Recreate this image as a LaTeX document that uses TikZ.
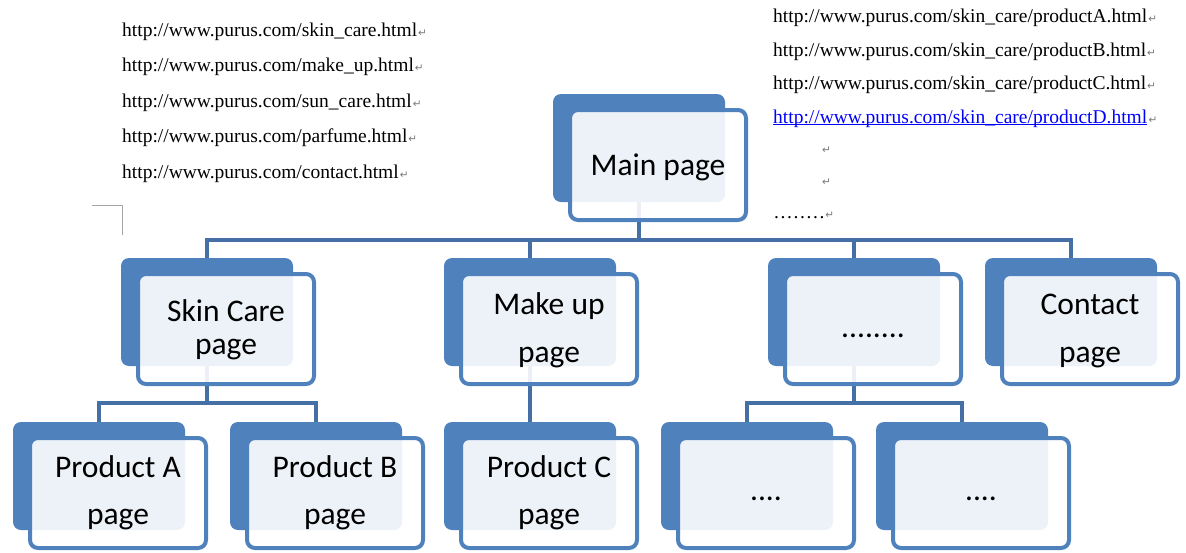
\documentclass[tikz,border=0pt]{standalone}
\usepackage{fontspec}
\setmainfont{Carlito}
\newfontfamily\urlfont{Liberation Serif}
\newfontfamily\markfont{DejaVu Sans}
\definecolor{accent}{RGB}{79,129,189}
\definecolor{linkline}{RGB}{68,112,166}
\definecolor{markgray}{RGB}{120,120,120}
\definecolor{cropgray}{RGB}{165,165,165}
\definecolor{hyper}{RGB}{0,0,255}
\pgfdeclarelayer{bg}
\pgfsetlayers{bg,main}
% paragraph mark after each line of the address list
\newcommand{\pmark}{{\markfont\fontsize{10.5}{10.5}\selectfont\color{markgray}\kern1pt ↵}}
% one page of the site: a filled tab behind a framed card
\newcommand{\pagecard}[3]{%
  \node[backbox]  (#1-b) at ({#2+86},{#3+54}) {};
  \node[frontbox] (#1)   at ({#2+105},{#3+71}) {};
}
\begin{document}
\begin{tikzpicture}[x=1pt,y=-1pt,
  backbox/.style={fill=accent, draw=none, rounded corners=8pt,
    minimum width=172pt, minimum height=108pt, inner sep=0pt, outer sep=0pt},
  frontbox/.style={draw=accent, line width=4pt, fill=white, fill opacity=0.9,
    rounded corners=8pt, minimum width=176pt, minimum height=110pt, inner sep=0pt},
  cardtext/.style={font=\fontsize{31.5}{38}\selectfont, anchor=base,
    align=center, inner sep=0pt, text=black},
  link/.style={draw=linkline, line width=4pt},
  url/.style={font=\urlfont\fontsize{19.5}{23}\selectfont, anchor=base west,
    inner sep=0pt, text=black},
  crop/.style={draw=cropgray, line width=1pt}]
\useasboundingbox (0,0) rectangle (1186,552);

% ---- site tree ----
\pagecard{main}{553}{94}
\pagecard{skin}{121}{258}
\pagecard{makeup}{444}{258}
\pagecard{more}{768}{258}
\pagecard{contact}{985}{258}
\pagecard{pa}{13}{422}
\pagecard{pb}{230}{422}
\pagecard{pc}{444}{422}
\pagecard{moreA}{661}{422}
\pagecard{moreB}{876}{422}

% labels: the base anchor sits on the last line
\node[cardtext] (main-t)    at (658,175) {Main page};
\node[cardtext] (skin-t)    at (226,354) {Skin Care\\[-5pt]page};
\node[cardtext] (makeup-t)  at (549,362.5) {Make up\\[10pt]page};
\node[cardtext] (more-t)    at (873,337) {........};
\node[cardtext] (contact-t) at (1090,362.5) {Contact\\[10pt]page};
\node[cardtext] (pa-t)      at (118,524) {Product A\\[9pt]page};
\node[cardtext] (pb-t)      at (335,524) {Product B\\[9pt]page};
\node[cardtext] (pc-t)      at (549,524) {Product C\\[9pt]page};
\node[cardtext] (moreA-t)   at (766,500) {....};
\node[cardtext] (moreB-t)   at (981,500) {....};

% connectors run under the cards
\coordinate (j0) at (639,240);
\coordinate (j1) at (207,403);
\coordinate (j2) at (854,403);
\begin{pgfonlayer}{bg}
  \draw[link] (main-b.south) -- (j0);
  \draw[link] (skin-b.north) |- (j0) -| (contact-b.north);
  \draw[link] (makeup-b.north) -- (makeup-b.north |- j0);
  \draw[link] (more-b.north) -- (more-b.north |- j0);
  \draw[link] (skin-b.south) -- (j1);
  \draw[link] (pa-b.north) |- (j1) -| (pb-b.north);
  \draw[link] (makeup-b.south) -- (pc-b.north);
  \draw[link] (more-b.south) -- (j2);
  \draw[link] (moreA-b.north) |- (j2) -| (moreB-b.north);
\end{pgfonlayer}

% ---- address lists ----
\node[url] (u1) at (122,36)    {http://www.purus.com/skin\_care.html\pmark};
\node[url] (u2) at (122,71.5)  {http://www.purus.com/make\_up.html\pmark};
\node[url] (u3) at (122,107)   {http://www.purus.com/sun\_care.html\pmark};
\node[url] (u4) at (122,142.5) {http://www.purus.com/parfume.html\pmark};
\node[url] (u5) at (122,178)   {http://www.purus.com/contact.html\pmark};

\node[url] (p1) at (773,22.5) {http://www.purus.com/skin\_care/productA.html\pmark};
\node[url] (p2) at (773,56)   {http://www.purus.com/skin\_care/productB.html\pmark};
\node[url] (p3) at (773,89.5) {http://www.purus.com/skin\_care/productC.html\pmark};
\node[url, text=hyper] (p4) at (773,123) {http://www.purus.com/skin\_care/productD.html};
\node[url] (p4m) at (p4.base east) {\pmark};
\draw[hyper, line width=1pt] ([yshift=-1.8pt]p4.base west) -- ([yshift=-1.8pt]p4.base east);
\node[url] (p5) at (821,153) {\pmark};
\node[url] (p6) at (821,185) {\pmark};
\node[url] (p7) at (774,218) {.\kern1.6pt.\kern1.6pt.\kern1.6pt.\kern1.6pt.\kern1.6pt.\kern1.6pt.\kern1.6pt.\pmark};

% corner mark of the text area
\draw[crop] (92,205) -- (122,205) -- (122,235);
\end{tikzpicture}
\end{document}
